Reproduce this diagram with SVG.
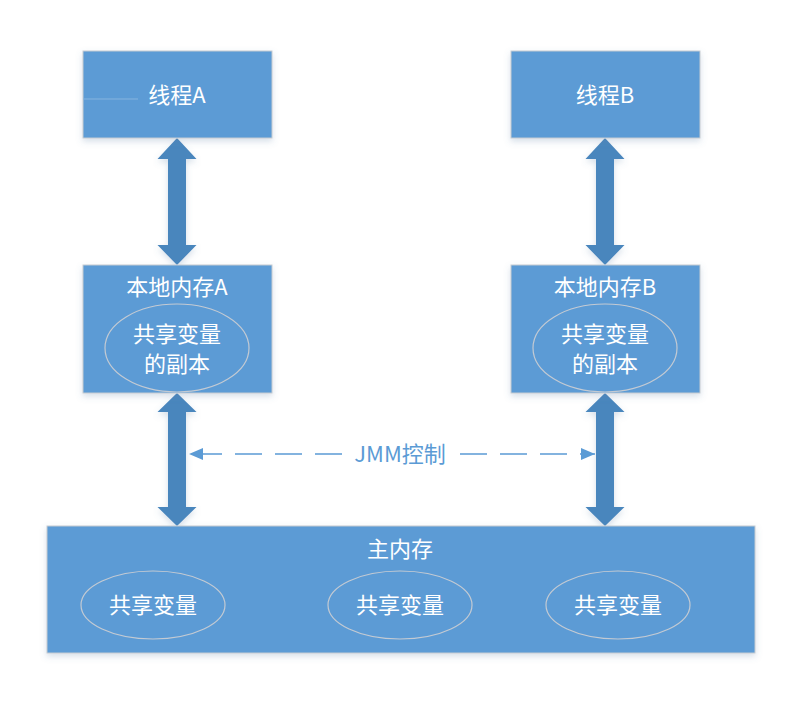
<svg xmlns="http://www.w3.org/2000/svg" width="798" height="703" viewBox="0 0 798 703">
<style>
.box{fill:#5b9bd5;stroke:#c5cbd2;stroke-width:1;filter:url(#sh)}
.ell{fill:none;stroke:#c3cad3;stroke-width:1.2}
.t{font-family:"Noto Sans CJK SC","Liberation Sans",sans-serif;font-size:22px;fill:#ffffff;text-anchor:middle}
.big{fill:#4a86bd;filter:url(#sh)}
.dash{stroke:#5b9bd5;stroke-width:1.6;stroke-dasharray:27 13;fill:none}
.lbl{font-family:"Noto Sans CJK SC","Liberation Sans",sans-serif;font-size:22px;fill:#5b9bd5;text-anchor:middle}
</style>
<defs>
<filter id="sh" x="-10%" y="-10%" width="120%" height="130%">
<feDropShadow dx="0" dy="3" stdDeviation="3" flood-color="#5b7fa8" flood-opacity="0.25"/>
</filter>
<marker id="ah" viewBox="0 0 14 12" refX="14" refY="6" markerWidth="14" markerHeight="12" markerUnits="userSpaceOnUse" orient="auto">
<path d="M0,0 L14,6 L0,12 Z" fill="#5b9bd5"/>
</marker>
</defs>
<rect width="798" height="703" fill="#ffffff"/>
<g id="connectors">
<polygon class="big" points="177,138 196.5,159 186,159 186,245 196.5,245 177,265 157.5,245 168,245 168,159 157.5,159"/>
<polygon class="big" points="605,138 624.5,159 614,159 614,245 624.5,245 605,265 585.5,245 596,245 596,159 585.5,159"/>
<polygon class="big" points="177,393 196.5,412 186,412 186,507 196.5,507 177,526 157.5,507 168,507 168,412 157.5,412"/>
<polygon class="big" points="605,393 624.5,412 614,412 614,507 624.5,507 605,526 585.5,507 596,507 596,412 585.5,412"/>
<path class="dash" d="M342,454 L189,454" marker-end="url(#ah)"/>
<path class="dash" d="M460,454 L595,454" marker-end="url(#ah)"/>
<text class="lbl" x="400" y="462">JMM控制</text>
</g>
<g id="threadA">
<rect class="box" x="83" y="51" width="189" height="87"/>
<line x1="83" y1="99" x2="138" y2="99" stroke="#86b4df" stroke-width="1"/>
<text class="t" x="177" y="103">线程A</text>
</g>
<g id="threadB">
<rect class="box" x="511" y="51" width="189" height="87"/>
<text class="t" x="605" y="103">线程B</text>
</g>
<g id="localA">
<rect class="box" x="83" y="265" width="189" height="128"/>
<text class="t" x="177" y="295">本地内存A</text>
<ellipse class="ell" cx="177" cy="348" rx="72" ry="44"/>
<text class="t" x="177" y="342">共享变量</text>
<text class="t" x="177" y="372">的副本</text>
</g>
<g id="localB">
<rect class="box" x="511" y="265" width="189" height="128"/>
<text class="t" x="605" y="295">本地内存B</text>
<ellipse class="ell" cx="605" cy="348" rx="72" ry="44"/>
<text class="t" x="605" y="342">共享变量</text>
<text class="t" x="605" y="372">的副本</text>
</g>
<g id="mainMemory">
<rect class="box" x="47" y="526" width="708" height="127"/>
<text class="t" x="400" y="557">主内存</text>
<ellipse class="ell" cx="153" cy="605" rx="72" ry="34"/>
<text class="t" x="153" y="613">共享变量</text>
<ellipse class="ell" cx="400" cy="605" rx="72" ry="34"/>
<text class="t" x="400" y="613">共享变量</text>
<ellipse class="ell" cx="618" cy="605" rx="72" ry="34"/>
<text class="t" x="618" y="613">共享变量</text>
</g>
</svg>
